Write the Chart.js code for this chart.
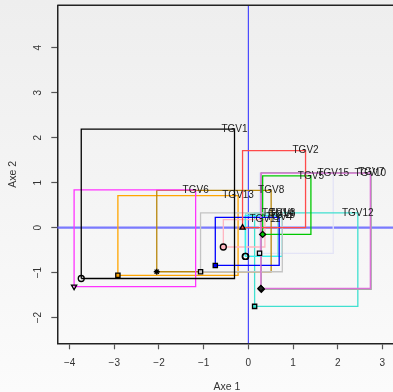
<!DOCTYPE html>
<html>
<head>
<meta charset="utf-8">
<script src="https://cdn.jsdelivr.net/npm/chart.js@4/dist/chart.umd.min.js"></script>
<style>
  html, body { margin: 0; padding: 0; overflow: hidden; }
  body { width: 393px; height: 392px; background: linear-gradient(#eeeeee, #fbfbfb); }
  #wrap { position: absolute; left: 0; top: 0; width: 402px; height: 392px; }
</style>
</head>
<body>
<div id="wrap"><canvas id="c" width="402" height="392"></canvas></div>
<script>
// Class labels, each with its point and the position of its label
const names  = ['TGV1','TGV2','TGV3','TGV4','TGV5','TGV6','TGV7','TGV8','TGV9','TGV10','TGV11','TGV12','TGV13','TGV14','TGV15'];
const pointX = [-3.74, -0.13, -1.07, -0.74, 0.32, -3.90, 0.29, -2.05, -0.07, 0.28, -0.56, 0.14, -2.92, -0.06, 0.25];
const pointY = [-1.13,  0.00, -0.98, -0.84, -0.15, -1.31, -1.37, -0.98, -0.64, -1.35, -0.43, -1.75, -1.06, -0.64, -0.57];
const labelX = [-0.31,  1.28,  0.76,  0.69, 1.40, -1.18, 2.75,  0.51,  0.76, 2.73,  0.37, 2.45, -0.23, 0.66, 1.90];
const labelY = [ 2.19,  1.71,  0.33,  0.23, 1.15,  0.84, 1.22,  0.83,  0.27, 1.21,  0.18, 0.33,  0.71, 0.32, 1.21];
const colors = ['#000000','#ff4a4a','#c4c4c4','#0000ff','#00c800','#ff33ff','#a8a8a8','#b8860b',
                '#33f0f0','#da70d6','#ffb6c1','#40e0d0','#ffa500','#7fe8d0','#e4e4f6'];
const markers = ['circle','triangle','rect','rect','rectRot','triangle','rectRot','star',
                 'circle','rectRot','circle','rect','rect','circle','rect'];
const markerRot = [0,0,0,0,0,180,0,0,0,0,0,0,0,0,0];
const markerFill = ['rgba(0,0,0,0)','#ff4a4a','#c4c4c4','#0000ff','#00c800','rgba(0,0,0,0)','#555555','#b8860b',
                    'rgba(0,0,0,0)','#222222','#ffb6c1','#40e0d0','#ffa500','rgba(0,0,0,0)','#e4e4f6'];

// Axis ticks
const xTicks = [-4, -3, -2, -1, 0, 1, 2, 3];
const yTicks = [-2, -1, 0, 1, 2, 3, 4];
const xTitle = 'Axe 1';
const yTitle = 'Axe 2';

const fmt = v => (v < 0 ? '\u2212' + Math.abs(v) : String(v));
const FONT = '"Liberation Sans", Arial, sans-serif';

// One closed rectangle per class, from its point to its label
// (TGV10 is drawn above TGV7 so the orchid outline stays visible)
const drawRank = i => (i === 9 ? 0.5 : 1);
const rectSets = names.map((n, i) => ({
  type: 'line',
  label: n,
  order: drawRank(i),
  data: [
    {x: pointX[i], y: pointY[i]},
    {x: labelX[i], y: pointY[i]},
    {x: labelX[i], y: labelY[i]},
    {x: pointX[i], y: labelY[i]},
    {x: pointX[i], y: pointY[i]}
  ],
  borderColor: colors[i],
  borderWidth: 1.3,
  pointRadius: 0,
  fill: false,
  tension: 0
}));

const pointSet = {
  type: 'scatter',
  label: 'points',
  order: 0,
  data: names.map((n, i) => ({x: pointX[i], y: pointY[i]})),
  pointStyle: markers,
  rotation: markerRot,
  backgroundColor: markerFill,
  borderColor: '#000000',
  borderWidth: 1.3,
  pointRadius: 3
};

const decor = {
  id: 'decor',
  beforeDatasetsDraw(chart) {
    const {ctx, chartArea: a, scales: {x, y}} = chart;
    ctx.save();
    // reference lines through the origin
    const y0 = y.getPixelForValue(0);
    ctx.strokeStyle = 'rgba(100,100,255,0.85)';
    ctx.lineWidth = 2.4;
    ctx.beginPath(); ctx.moveTo(a.left, y0); ctx.lineTo(a.right, y0); ctx.stroke();
    const x0 = x.getPixelForValue(0);
    ctx.strokeStyle = '#3a3aff';
    ctx.lineWidth = 1.1;
    ctx.beginPath(); ctx.moveTo(x0, a.top); ctx.lineTo(x0, a.bottom); ctx.stroke();
    ctx.restore();
  },
  afterDatasetsDraw(chart) {
    const {ctx, chartArea: a, scales: {x, y}} = chart;
    ctx.save();
    // class labels
    ctx.font = '10px ' + FONT;
    ctx.fillStyle = '#1a1a1a';
    ctx.textAlign = 'center';
    ctx.textBaseline = 'middle';
    names.forEach((n, i) => {
      ctx.fillText(n, x.getPixelForValue(labelX[i]), y.getPixelForValue(labelY[i]));
    });
    // top frame line
    ctx.strokeStyle = '#222';
    ctx.lineWidth = 1.5;
    ctx.beginPath(); ctx.moveTo(a.left, a.top); ctx.lineTo(a.right, a.top); ctx.stroke();
    // tick labels
    ctx.fillStyle = '#333';
    ctx.font = '10px ' + FONT;
    xTicks.forEach(v => ctx.fillText(fmt(v), x.getPixelForValue(v), a.bottom + 20));
    yTicks.forEach(v => {
      ctx.save();
      ctx.translate(a.left - 19, y.getPixelForValue(v));
      ctx.rotate(-Math.PI / 2);
      ctx.fillText(fmt(v), 0, 0);
      ctx.restore();
    });
    // axis titles
    ctx.font = '10.5px ' + FONT;
    ctx.fillText(xTitle, (a.left + a.right) / 2, 387);
    ctx.save();
    ctx.translate(13, (a.top + a.bottom) / 2);
    ctx.rotate(-Math.PI / 2);
    ctx.fillText(yTitle, 0, 0);
    ctx.restore();
    ctx.restore();
  }
};

new Chart(document.getElementById('c'), {
  data: { datasets: [pointSet, ...rectSets] },
  options: {
    responsive: false,
    animation: false,
    layout: { padding: { top: 5.3, right: 3, left: 0, bottom: 0 } },
    plugins: { legend: { display: false }, tooltip: { enabled: false } },
    scales: {
      x: {
        type: 'linear',
        min: -4.276,
        max: 3.32,
        afterBuildTicks: s => { s.ticks = xTicks.map(v => ({value: v})); },
        afterFit: s => { s.height = 48.7; },
        ticks: { display: false },
        grid: { drawOnChartArea: false, drawTicks: true, tickLength: 6, tickWidth: 1.2, tickColor: '#555' },
        border: { display: true, color: '#222', width: 1.5 }
      },
      y: {
        type: 'linear',
        min: -2.57,
        max: 4.94,
        afterBuildTicks: s => { s.ticks = yTicks.map(v => ({value: v})); },
        afterFit: s => { s.width = 57.3; },
        ticks: { display: false },
        grid: { drawOnChartArea: false, drawTicks: true, tickLength: 6, tickWidth: 1.2, tickColor: '#555' },
        border: { display: true, color: '#222', width: 1.5 }
      }
    }
  },
  plugins: [decor]
});
</script>
</body>
</html>
